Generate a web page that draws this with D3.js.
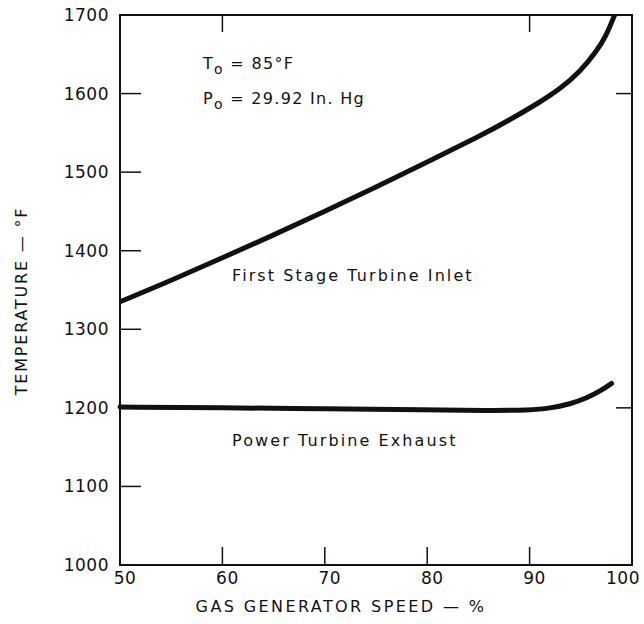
<!DOCTYPE html>
<html>
<head>
<meta charset="utf-8">
<script src="https://cdn.jsdelivr.net/npm/d3@7"></script>
<style>
  body { margin: 0; background: #fff; }
  text { font-family: "DejaVu Sans", sans-serif; fill: #111; }
</style>
</head>
<body>
<svg id="chart" width="644" height="624"></svg>
<script>
// data
var speedTicks = [50, 60, 70, 80, 90, 100]
var tempTicks = [1000, 1100, 1200, 1300, 1400, 1500, 1600, 1700]

var inletSpeed = [50, 55, 60, 65, 70, 75, 80, 85, 88, 91, 93, 95, 96.5, 97.5, 98.3]
var inletTemp  = [1335, 1362, 1391, 1420, 1450, 1481, 1513, 1545, 1566, 1589, 1606, 1629, 1653, 1674, 1700]

var exhaustSpeed = [50, 60, 70, 80, 86, 90, 92, 94, 95.5, 97, 98]
var exhaustTemp  = [1201, 1200, 1199, 1197.5, 1196.5, 1197, 1199.5, 1205, 1212, 1222, 1231]

//layout
var dimensions = {
    width: 644,
    height: 624,
    margin: { top: 15, bottom: 59, left: 120, right: 12 }
}
var curveStroke = 5
var frameStroke = 2
var fontSize = 16

var svg = d3.select("#chart")

var x = d3.scaleLinear()
          .domain([50, 100])
          .range([dimensions.margin.left, dimensions.width - dimensions.margin.right])
var y = d3.scaleLinear()
          .domain([1000, 1700])
          .range([dimensions.height - dimensions.margin.bottom, dimensions.margin.top])

var x0 = x.range()[0], x1 = x.range()[1]
var y0 = y.range()[0], y1 = y.range()[1]

//frame
svg.append("rect")
   .attr("x", x0).attr("y", y1)
   .attr("width", x1 - x0).attr("height", y0 - y1)
   .attr("fill", "none")
   .attr("stroke", "#111")
   .attr("stroke-width", frameStroke)

//inward ticks
var tickG = svg.append("g").attr("stroke", "#111").attr("stroke-width", 1.5)
tickG.selectAll(".ltick").data(tempTicks.slice(1, -1)).enter().append("line")
     .attr("x1", x0).attr("x2", x0 + 21)
     .attr("y1", d => y(d)).attr("y2", d => y(d))
tickG.selectAll(".btick").data(speedTicks.slice(1, -1)).enter().append("line")
     .attr("x1", d => x(d)).attr("x2", d => x(d))
     .attr("y1", y0).attr("y2", y0 - 18)
tickG.selectAll(".ttick").data([60, 90]).enter().append("line")
     .attr("x1", d => x(d)).attr("x2", d => x(d))
     .attr("y1", y1).attr("y2", y1 + 17)
tickG.selectAll(".rtick").data([1600, 1200]).enter().append("line")
     .attr("x1", x1).attr("x2", x1 - 16)
     .attr("y1", d => y(d)).attr("y2", d => y(d))

//tick labels
svg.append("g").selectAll("text").data(tempTicks).enter().append("text")
   .attr("x", x0 - 11)
   .attr("y", d => y(d) + 6)
   .attr("text-anchor", "end")
   .attr("font-size", 17)
   .attr("letter-spacing", 0.5)
   .text(d => d)
svg.append("g").selectAll("text").data(speedTicks).enter().append("text")
   .attr("x", d => d == 100 ? x(d) + 8 : x(d) + 5)
   .attr("y", y0 + 19)
   .attr("text-anchor", d => d == 100 ? "end" : "middle")
   .attr("font-size", 17)
   .attr("letter-spacing", 0.5)
   .text(d => d)

//axis titles
svg.append("text")
   .attr("x", 341).attr("y", 612)
   .attr("text-anchor", "middle")
   .attr("font-size", fontSize)
   .attr("letter-spacing", 2.4)
   .text("GAS GENERATOR SPEED — %")
svg.append("text")
   .attr("transform", "translate(27,301) rotate(-90)")
   .attr("text-anchor", "middle")
   .attr("font-size", fontSize)
   .attr("letter-spacing", 1.8)
   .text("TEMPERATURE — °F")

//curves
var line = d3.line().curve(d3.curveBasis)
var inlet = inletSpeed.map((s, i) => [x(s), y(inletTemp[i])])
var exhaust = exhaustSpeed.map((s, i) => [x(s), y(exhaustTemp[i])])
svg.append("path")
   .attr("d", line(inlet))
   .attr("fill", "none").attr("stroke", "#111")
   .attr("stroke-width", curveStroke)
svg.append("path")
   .attr("d", line(exhaust))
   .attr("fill", "none").attr("stroke", "#111")
   .attr("stroke-width", curveStroke)
   .attr("stroke-linecap", "round")

//curve labels
svg.append("text")
   .attr("x", 232).attr("y", 281)
   .attr("font-size", fontSize)
   .attr("letter-spacing", 2.1)
   .text("First  Stage Turbine Inlet")
svg.append("text")
   .attr("x", 232).attr("y", 446)
   .attr("font-size", fontSize)
   .attr("letter-spacing", 2.1)
   .text("Power Turbine Exhaust")

//ambient conditions
var t = svg.append("text").attr("x", 203).attr("y", 69).attr("font-size", fontSize).attr("letter-spacing", 1.3)
t.append("tspan").text("T")
t.append("tspan").attr("dy", 5).attr("font-size", 14).text("o")
t.append("tspan").attr("dy", -5).text(" = 85°F")
var p = svg.append("text").attr("x", 203).attr("y", 104).attr("font-size", fontSize).attr("letter-spacing", 1.3)
p.append("tspan").text("P")
p.append("tspan").attr("dy", 5).attr("font-size", 14).text("o")
p.append("tspan").attr("dy", -5).text(" = 29.92 In. Hg")
</script>
</body>
</html>
